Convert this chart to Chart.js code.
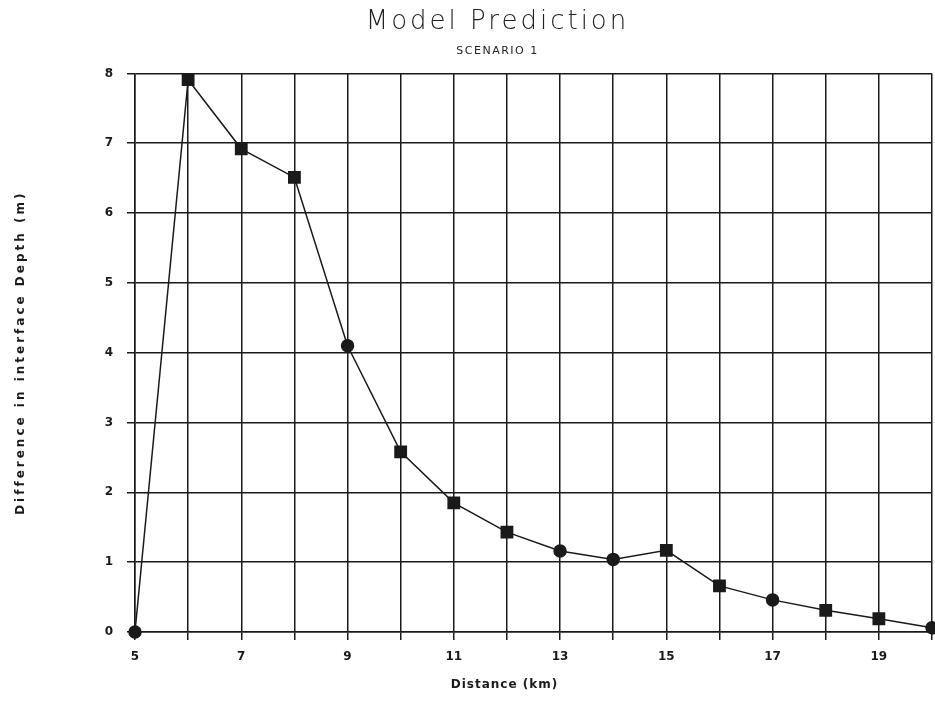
<!DOCTYPE html>
<html>
<head>
<meta charset="utf-8">
<script src="https://cdn.jsdelivr.net/npm/chart.js@4.4.1/dist/chart.umd.min.js"></script>
<style>
  html, body { margin: 0; padding: 0; background: #fff; }
  #wrap { width: 935px; height: 706px; }
</style>
</head>
<body>
<div id="wrap"><canvas id="chart" width="935" height="706"></canvas></div>
<script>
// distance (km) and difference in interface depth (m)
var distance = [5, 6, 7, 8, 9, 10, 11, 12, 13, 14, 15, 16, 17, 18, 19, 20];
var depthDiff = [0, 7.91, 6.92, 6.51, 4.1, 2.58, 1.85, 1.43, 1.16, 1.04, 1.17, 0.66, 0.46, 0.31, 0.19, 0.06];
var markerStyles = ['circle', 'rect', 'rect', 'rect', 'circle', 'rect', 'rect', 'rect', 'circle', 'circle', 'rect', 'rect', 'circle', 'rect', 'rect', 'circle'];

var ink = '#1a1a1a';
var tickFont = { family: 'DejaVu Sans', size: 12, weight: 'bold' };

// the old plotter font is widely spaced and its titles sit a bit left of centre
function spaced(obj, name, ctx, px, dx) {
  if (!obj || obj['_sp_' + name]) return;
  var orig = obj[name];
  obj[name] = function () {
    ctx.save();
    ctx.letterSpacing = px + 'px';
    ctx.translate(dx, 0);
    var r = orig.apply(this, arguments);
    ctx.restore();
    return r;
  };
  obj['_sp_' + name] = true;
}

new Chart(document.getElementById('chart'), {
  type: 'line',
  data: {
    datasets: [{
      label: 'Scenario 1',
      data: distance.map(function (d, i) { return { x: d, y: depthDiff[i] }; }),
      borderColor: ink,
      backgroundColor: ink,
      borderWidth: 1.5,
      pointStyle: markerStyles,
      pointRadius: markerStyles.map(function (s) { return s === 'rect' ? 8 : 6; }),
      pointBackgroundColor: ink,
      pointBorderColor: ink,
      tension: 0,
      clip: false
    }]
  },
  options: {
    responsive: false,
    animation: false,
    devicePixelRatio: 1,
    layout: { autoPadding: false, padding: { left: 10, right: 3, top: 7, bottom: 10 } },
    plugins: {
      legend: { display: false },
      tooltip: { enabled: false },
      title: {
        display: true,
        text: 'Model Prediction',
        fullSize: false,
        color: '#222',
        font: { family: 'DejaVu Sans', size: 26, weight: '200' },
        padding: { top: 0, bottom: 4 }
      },
      subtitle: {
        display: true,
        text: 'SCENARIO 1',
        fullSize: false,
        color: '#222',
        font: { family: 'DejaVu Sans', size: 11, weight: 'normal' },
        padding: { top: 2, bottom: 16 }
      }
    },
    scales: {
      x: {
        type: 'linear',
        min: 5,
        max: 20,
        afterFit: function (s) { s.height = 64; s.paddingLeft = 0; s.paddingRight = 0; },
        ticks: {
          stepSize: 1,
          autoSkip: false,
          maxRotation: 0,
          color: ink,
          font: tickFont,
          padding: 10,
          callback: function (v) { return v % 2 === 1 ? v : ''; }
        },
        grid: { color: ink, lineWidth: 1.5, tickLength: 8, tickColor: ink },
        border: { color: ink, width: 1.5 },
        title: {
          display: true,
          text: 'Distance (km)',
          color: ink,
          font: { family: 'DejaVu Sans', size: 12, weight: 'bold' },
          padding: { top: 4 }
        }
      },
      y: {
        min: 0,
        max: 8,
        afterFit: function (s) { s.width = 125; s.paddingTop = 0; s.paddingBottom = 0; },
        ticks: {
          stepSize: 1,
          color: ink,
          font: tickFont,
          padding: 14
        },
        grid: { color: ink, lineWidth: 1.5, tickLength: 8, tickColor: ink },
        border: { color: ink, width: 1.5 },
        title: {
          display: true,
          text: 'Difference in interface Depth (m)',
          color: ink,
          font: { family: 'DejaVu Sans', size: 12, weight: 'bold' },
          padding: { bottom: 4 }
        }
      }
    }
  },
  plugins: [{
    id: 'bg',
    beforeDraw: function (c) {
      var ctx = c.ctx;
      ctx.save();
      ctx.fillStyle = '#fff';
      ctx.fillRect(0, 0, c.width, c.height);
      ctx.restore();
      c.boxes.forEach(function (b) {
        if (b.axis || !b.options || !b.options.text) return;
        if (b.options.text === 'SCENARIO 1') spaced(b, 'draw', ctx, 1.5, -36);
        else spaced(b, 'draw', ctx, 3, -36);
      });
      spaced(c.scales.x, 'drawTitle', ctx, 1, -29);
      spaced(c.scales.y, 'drawTitle', ctx, 3, 0);
    }
  }]
});
</script>
</body>
</html>
